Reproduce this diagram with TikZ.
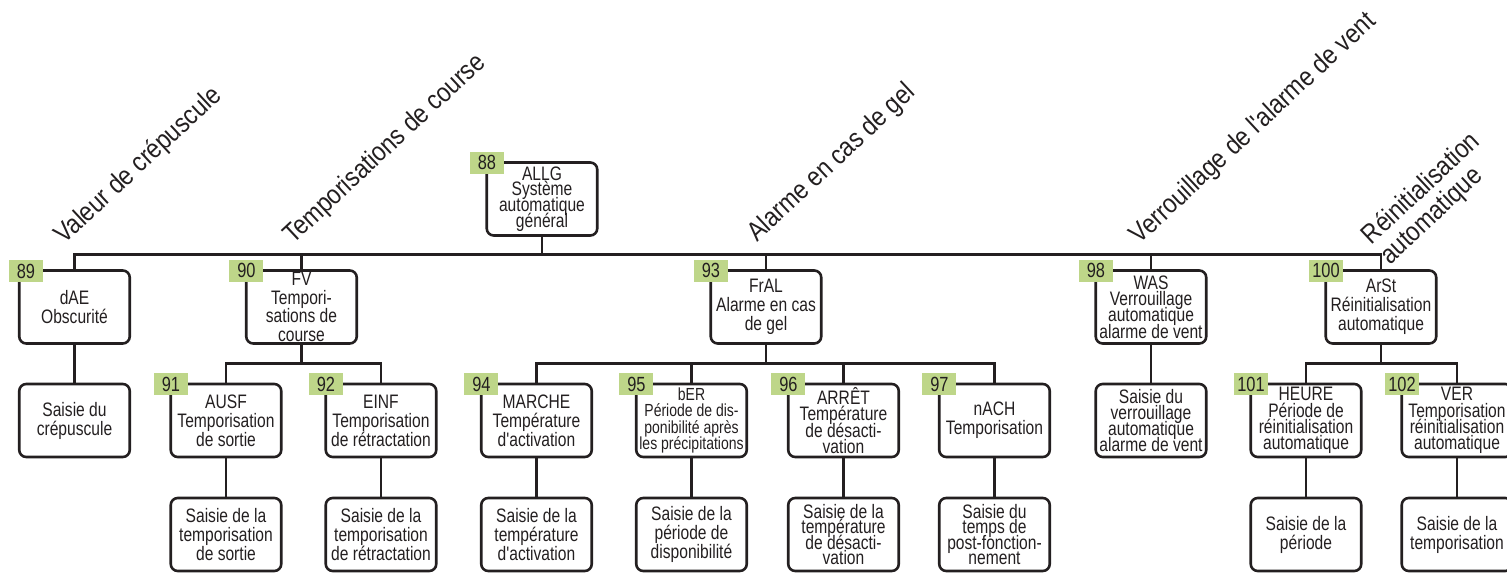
\documentclass[tikz,border=0pt]{standalone}
\usepackage{fontspec}
\newfontfamily\cnd{Liberation Sans}[FakeStretch=0.8]
\newfontfamily\cndwide{Liberation Sans}[FakeStretch=0.86]
\definecolor{ink}{RGB}{35,31,32}
\definecolor{tagfill}{RGB}{190,214,137}
% fixed line spacing, even where the glyphs come close
\newcommand\boxfont[2]{\cnd\fontsize{#1}{#2}\selectfont\lineskiplimit=-40pt\relax}
\newcommand\catfont{\cndwide\fontsize{27}{27}\selectfont}
\begin{document}
\begin{tikzpicture}[x=1pt,y=-1pt,
  box/.style={draw=ink, line width=2.6pt, rounded corners=7pt,
    minimum width=110.5pt, minimum height=73pt, inner sep=0pt,
    align=center, text=ink, font=\boxfont{19.5}{19}},
  tight/.style={font=\boxfont{19.5}{16.3}},
  badge/.style={fill=tagfill, minimum width=34pt, minimum height=22pt,
    inner sep=0pt, text=ink, font=\boxfont{20.5}{20}},
  link/.style={draw=ink, line width=2.4pt},
  cat/.style={rotate=43, inner sep=0pt, text=ink, font=\catfont},
]
\useasboundingbox (0,0) rectangle (1507,573);
\clip (0,0) rectangle (1507,573);

% root
\node[box, font=\boxfont{19.5}{15.7}] (b88) at (542,199)
  {ALLG\\Système\\automatique\\général};

% first level
\node[box] (b89) at (74.5,307) {dAE\\Obscurité};
\node[box, font=\boxfont{19.5}{18.5}] (b90) at (301.5,307)
  {FV\\Tempori-\\sations de\\course};
\node[box] (b93) at (766,307) {FrAL\\Alarme en cas\\de gel};
\node[box, tight] (b98) at (1151,307)
  {WAS\\Verrouillage\\automatique\\alarme de vent};
\node[box] (b100) at (1381,307) {ArSt\\Réinitialisation\\automatique};

% second level
\node[box] (c89) at (74.5,420.5) {Saisie du\\crépuscule};
\node[box] (b91) at (226,420.5) {AUSF\\Temporisation\\de sortie};
\node[box] (b92) at (381,420.5) {EINF\\Temporisation\\de rétractation};
\node[box] (b94) at (536.5,420.5) {MARCHE\\Température\\d'activation};
\node[box, font=\boxfont{17.5}{16.3}] (b95) at (691.5,420.5)
  {bER\\Période de dis-\\ponibilité après\\les précipitations};
\node[box, tight] (b96) at (843.5,420.5)
  {ARRÊT\\Température\\de désacti-\\vation};
\node[box] (b97) at (994.5,420.5) {nACH\\Temporisation};
\node[box, tight] (c98) at (1151,420.5)
  {Saisie du\\verrouillage\\automatique\\alarme de vent};
\node[box, tight] (b101) at (1306,420.5)
  {HEURE\\Période de\\réinitialisation\\automatique};
\node[box, tight] (b102) at (1457,420.5)
  {VER\\Temporisation\\réinitialisation\\automatique};

% third level
\node[box] (c91) at (226,534.5) {Saisie de la\\temporisation\\de sortie};
\node[box] (c92) at (381,534.5) {Saisie de la\\temporisation\\de rétractation};
\node[box] (c94) at (536.5,534.5) {Saisie de la\\température\\d'activation};
\node[box] (c95) at (691.5,534.5) {Saisie de la\\période de\\disponibilité};
\node[box, font=\boxfont{19.5}{15.6}] (c96) at (843.5,534.5)
  {Saisie de la\\température\\de désacti-\\vation};
\node[box, font=\boxfont{19.5}{15.6}] (c97) at (994.5,534.5)
  {Saisie du\\temps de\\post-fonction-\\nement};
\node[box] (c101) at (1306,534.5) {Saisie de la\\période};
\node[box] (c102) at (1457,534.5) {Saisie de la\\temporisation};

% connectors
\coordinate (top) at (542,254.5);
\coordinate (mid) at (542,363.5);
\draw[link] (b88.south) -- (b88.south |- top);
\draw[link] (b89.north) |- (b100.north |- top) -- (b100.north);
\draw[link] (b90.north) -- (b90.north |- top);
\draw[link] (b93.north) -- (b93.north |- top);
\draw[link] (b98.north) -- (b98.north |- top);

\draw[link] (b89.south) -- (c89.north);
\draw[link] (b90.south) -- (b90.south |- mid);
\draw[link] (b91.north) |- (b92.north |- mid) -- (b92.north);
\draw[link] (b93.south) -- (b93.south |- mid);
\draw[link] (b94.north) |- (b97.north |- mid) -- (b97.north);
\draw[link] (b95.north) -- (b95.north |- mid);
\draw[link] (b96.north) -- (b96.north |- mid);
\draw[link] (b98.south) -- (c98.north);
\draw[link] (b100.south) -- (b100.south |- mid);
\draw[link] (b101.north) |- (b102.north |- mid) -- (b102.north);

\foreach \n in {91,92,94,95,96,97,101,102}
  \draw[link] (b\n.south) -- (c\n.north);

% number badges
\node[badge] (t88) at ([shift={(1.5,1.5)}]b88.north west) {88};
\node[badge] (t89) at (26,271) {89};
\foreach \n in {90,93,98,100,91,92,94,95,96,97,101,102}
  \node[badge] (t\n) at ([shift={(1.5,1.5)}]b\n.north west) {\n};

% category headings
\node[cat, anchor=base west] (h89) at (64.5,245) {Valeur de crépuscule};
\node[cat, anchor=base west] (h90) at (293,245) {Temporisations de course};
\node[cat, anchor=base west] (h93) at (757,243) {Alarme en cas de gel};
\node[cat, anchor=base west] (h98) at (1139.5,245) {Verrouillage de l'alarme de vent};
\node[cat, align=left] (h100) at (1431,199) {Réinitialisation\\automatique};
\end{tikzpicture}
\end{document}
